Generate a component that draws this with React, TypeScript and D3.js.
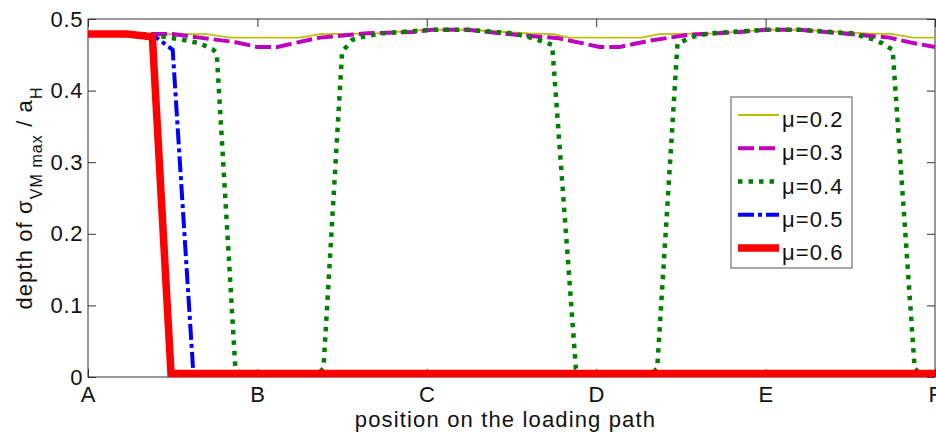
import React, { useEffect, useRef } from "react";
import * as d3 from "d3";

// positions along the loading path, A..F
const categories = ["A", "B", "C", "D", "E", "F"];
const yTicks = [0, 0.1, 0.2, 0.3, 0.4, 0.5];
const seriesNames = ["μ=0.2", "μ=0.3", "μ=0.4", "μ=0.5", "μ=0.6"];

// mu = 0.2
const mu02x = [0, 0.7, 0.84, 1.25, 1.37, 1.7, 2.0, 2.24, 2.6, 2.75, 2.84, 3.27, 3.37, 3.7, 4.0, 4.2, 4.6, 4.75, 4.87, 5.0];
const mu02y = [0.479, 0.479, 0.474, 0.474, 0.479, 0.48, 0.485, 0.485, 0.48, 0.479, 0.474, 0.474, 0.479, 0.48, 0.485, 0.485, 0.48, 0.479, 0.474, 0.474];

// mu = 0.3
const mu03x = [0, 0.4, 0.5, 0.66, 0.86, 1.0, 1.12, 1.25, 1.37, 1.65, 1.92, 2.03, 2.24, 2.43, 2.63, 2.78, 2.9, 3.02, 3.14, 3.32, 3.55, 3.85, 4.0, 4.2, 4.45, 4.73, 4.88, 5.0];
const mu03y = [0.479, 0.479, 0.479, 0.474, 0.468, 0.461, 0.461, 0.468, 0.474, 0.48, 0.482, 0.485, 0.485, 0.48, 0.476, 0.473, 0.467, 0.461, 0.461, 0.47, 0.478, 0.482, 0.485, 0.485, 0.48, 0.474, 0.466, 0.461];

// mu = 0.4
const mu04x = [0, 0.37, 0.56, 0.66, 0.74, 0.76, 0.87, 0.9, 1.36, 1.39, 1.5, 1.56, 1.62, 1.74, 2.03, 2.24, 2.51, 2.63, 2.7, 2.74, 2.88, 2.91, 3.33, 3.36, 3.48, 3.57, 3.67, 4.0, 4.2, 4.51, 4.58, 4.63, 4.69, 4.75, 4.88, 4.91, 5.0];
const mu04y = [0.479, 0.478, 0.471, 0.466, 0.457, 0.452, 0.012, 0.005, 0.005, 0.012, 0.454, 0.471, 0.475, 0.48, 0.485, 0.485, 0.48, 0.473, 0.467, 0.464, 0.012, 0.005, 0.005, 0.012, 0.466, 0.475, 0.48, 0.485, 0.485, 0.48, 0.475, 0.472, 0.466, 0.457, 0.012, 0.005, 0.005];

// mu = 0.5
const mu05x = [0, 0.38, 0.41, 0.5, 0.62, 0.65, 5.0];
const mu05y = [0.479, 0.477, 0.473, 0.457, 0.012, 0.005, 0.005];

// mu = 0.6
const mu06x = [0, 0.23, 0.35, 0.38, 0.49, 5.0];
const mu06y = [0.479, 0.479, 0.476, 0.475, 0.005, 0.005];

const width = 936;
const height = 435;
const plot = { left: 88, right: 935, top: 19, bottom: 377 };
const font = "Arial, 'Liberation Sans', sans-serif";

const styles = [
  { color: "#bfbf00", width: 1.8, dash: null },
  { color: "#bf00bf", width: 4, dash: "16,5" },
  { color: "#008000", width: 4.5, dash: "4.5,6" },
  { color: "#0000ff", width: 4, dash: "16,4,4,4" },
  { color: "#ff0000", width: 7.5, dash: null },
];

export default function App() {
  const ref = useRef<SVGSVGElement>(null);

  useEffect(() => {
    const svg = d3.select(ref.current);
    svg.selectAll("*").remove();

    const x = d3.scaleLinear().domain([0, categories.length - 1]).range([plot.left, plot.right]);
    const y = d3.scaleLinear().domain([0, 0.5]).range([plot.bottom, plot.top]);

    const axisStyle = (g) => {
      g.select(".domain").remove();
      g.selectAll("line").attr("stroke", "#333");
      g.selectAll("text")
        .attr("font-family", font)
        .attr("font-size", 22)
        .attr("letter-spacing", 0.6)
        .attr("fill", "#111");
    };

    const xIdx = categories.map((_, i) => i);

    svg.append("g")
      .attr("transform", `translate(0,${plot.bottom})`)
      .call(d3.axisBottom(x).tickValues(xIdx).tickFormat((d) => categories[d]).tickSizeInner(-8).tickSizeOuter(0).tickPadding(9))
      .call(axisStyle);
    svg.append("g")
      .attr("transform", `translate(0,${plot.top})`)
      .call(d3.axisTop(x).tickValues(xIdx).tickFormat(() => "").tickSizeInner(-8).tickSizeOuter(0))
      .call(axisStyle);
    svg.append("g")
      .attr("transform", `translate(${plot.left},0)`)
      .call(d3.axisLeft(y).tickValues(yTicks).tickFormat((d) => String(d)).tickSizeInner(-8).tickSizeOuter(0).tickPadding(5))
      .call(axisStyle);
    svg.append("g")
      .attr("transform", `translate(${plot.right},0)`)
      .call(d3.axisRight(y).tickValues(yTicks).tickFormat(() => "").tickSizeInner(-8).tickSizeOuter(0))
      .call(axisStyle);

    svg.append("rect")
      .attr("x", plot.left)
      .attr("y", plot.top)
      .attr("width", plot.right - plot.left)
      .attr("height", plot.bottom - plot.top)
      .attr("fill", "none")
      .attr("stroke", "#333")
      .attr("stroke-width", 1);

    const line = d3.line<[number, number]>()
      .x((d) => x(d[0]))
      .y((d) => y(d[1]));

    const series = [
      d3.zip(mu02x, mu02y),
      d3.zip(mu03x, mu03y),
      d3.zip(mu04x, mu04y),
      d3.zip(mu05x, mu05y),
      d3.zip(mu06x, mu06y),
    ];

    series.forEach((pts, i) => {
      const s = styles[i];
      svg.append("path")
        .datum(pts)
        .attr("d", line)
        .attr("fill", "none")
        .attr("stroke", s.color)
        .attr("stroke-width", s.width)
        .attr("stroke-dasharray", s.dash)
        .attr("stroke-linejoin", "miter");
    });

    // axis labels
    svg.append("text")
      .attr("x", (plot.left + plot.right) / 2 - 6)
      .attr("y", 427)
      .attr("text-anchor", "middle")
      .attr("font-family", font)
      .attr("font-size", 22)
      .attr("letter-spacing", 1.15)
      .attr("fill", "#111")
      .text("position on the loading path");

    const yl = svg.append("text")
      .attr("transform", `translate(32,${(plot.top + plot.bottom) / 2}) rotate(-90)`)
      .attr("text-anchor", "middle")
      .attr("font-family", font)
      .attr("font-size", 22)
      .attr("letter-spacing", 1.1)
      .attr("fill", "#111");
    yl.append("tspan").text("depth of σ");
    yl.append("tspan").attr("font-size", 16).attr("dy", 10).text("VM max");
    yl.append("tspan").attr("dy", -10).text(" / a");
    yl.append("tspan").attr("font-size", 16).attr("dy", 10).text("H");

    // legend
    const lg = svg.append("g");
    lg.append("rect")
      .attr("x", 731)
      .attr("y", 97)
      .attr("width", 121)
      .attr("height", 171)
      .attr("fill", "#fff")
      .attr("stroke", "#555")
      .attr("stroke-width", 1);

    const rowY = d3.scalePoint().domain(seriesNames).range([115, 248]);
    seriesNames.forEach((name, i) => {
      const s = styles[i];
      const yy = rowY(name);
      lg.append("line")
        .attr("x1", 738)
        .attr("x2", 779)
        .attr("y1", yy)
        .attr("y2", yy)
        .attr("stroke", s.color)
        .attr("stroke-width", s.width)
        .attr("stroke-dasharray", s.dash);
      lg.append("text")
        .attr("x", 782)
        .attr("y", yy + 12)
        .attr("font-family", font)
        .attr("font-size", 22)
        .attr("letter-spacing", 1.1)
        .attr("fill", "#111")
        .text(name);
    });
  }, []);

  return (
    <svg
      ref={ref}
      width={width}
      height={height}
      style={{ position: "absolute", left: 0, top: 0, background: "#fff" }}
    />
  );
}
